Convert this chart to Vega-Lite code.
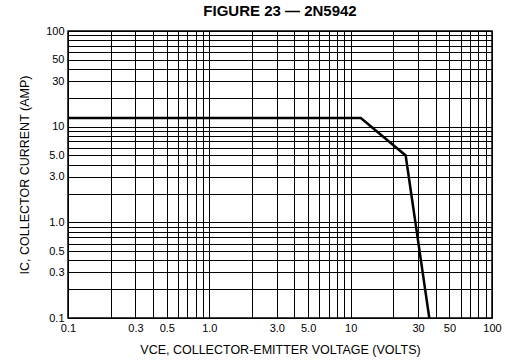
{
  "$schema": "https://vega.github.io/schema/vega-lite/v6.json",
  "autosize": "none",
  "width": 424,
  "height": 287,
  "padding": {"left": 68, "top": 31, "right": 13, "bottom": 46},
  "background": "white",
  "title": {
    "text": "FIGURE 23 — 2N5942",
    "font": "Liberation Sans",
    "fontSize": 15,
    "fontWeight": "bold",
    "color": "black",
    "anchor": "middle",
    "baseline": "bottom",
    "offset": -9
  },
  "config": {
    "view": {"stroke": "black", "strokeWidth": 1.5},
    "axis": {
      "labelFont": "Liberation Sans",
      "labelFontSize": 11,
      "labelColor": "black",
      "titleFont": "Liberation Sans",
      "titleFontSize": 12.5,
      "titleFontWeight": "normal",
      "titleColor": "black",
      "gridColor": "black",
      "gridOpacity": 1,
      "gridWidth": 1,
      "ticks": false,
      "domain": false,
      "labelOverlap": false,
      "labelFlush": false,
      "labelBound": false
    }
  },
  "data": {
    "values": [
      {"vce": 0.1, "ic": 12.3},
      {"vce": 11.8, "ic": 12.3},
      {"vce": 24.5, "ic": 5.0},
      {"vce": 36, "ic": 0.1}
    ]
  },
  "mark": {"type": "line", "color": "black", "strokeWidth": 2.5, "clip": true},
  "encoding": {
    "x": {
      "field": "vce",
      "type": "quantitative",
      "scale": {"type": "log", "domain": [0.1, 100], "nice": false},
      "axis": {
        "title": "VCE, COLLECTOR-EMITTER VOLTAGE (VOLTS)",
        "titlePadding": 10,
        "labelPadding": 4,
        "values": [0.1,0.2,0.3,0.4,0.5,0.6,0.7,0.8,0.9,1,2,3,4,5,6,7,8,9,10,20,30,40,50,60,70,80,90,100],
        "labelExpr": "datum.value==0.1?'0.1':datum.value==0.3?'0.3':datum.value==0.5?'0.5':datum.value==1?'1.0':datum.value==3?'3.0':datum.value==5?'5.0':datum.value==10?'10':datum.value==30?'30':datum.value==50?'50':datum.value==100?'100':''"
      }
    },
    "y": {
      "field": "ic",
      "type": "quantitative",
      "scale": {"type": "log", "domain": [0.1, 100], "nice": false},
      "axis": {
        "title": "IC, COLLECTOR CURRENT (AMP)",
        "titlePadding": 14,
        "labelPadding": 4,
        "values": [0.1,0.2,0.3,0.4,0.5,0.6,0.7,0.8,0.9,1,2,3,4,5,6,7,8,9,10,20,30,40,50,60,70,80,90,100],
        "labelExpr": "datum.value==0.1?'0.1':datum.value==0.3?'0.3':datum.value==0.5?'0.5':datum.value==1?'1.0':datum.value==3?'3.0':datum.value==5?'5.0':datum.value==10?'10':datum.value==30?'30':datum.value==50?'50':datum.value==100?'100':''"
      }
    }
  }
}
